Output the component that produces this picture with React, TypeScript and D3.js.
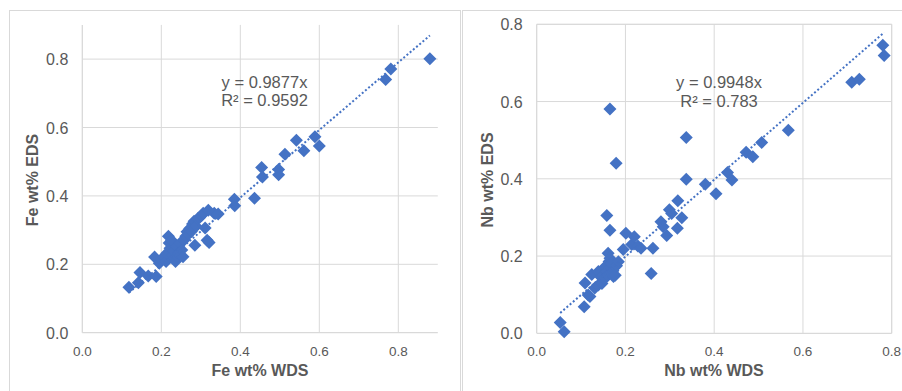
import React from "react";
import * as d3 from "d3";

// ---- Data ----
const feWDS = [0.118,0.142,0.146,0.167,0.187,0.183,0.195,0.200,0.207,0.212,0.214,0.218,0.220,0.222,0.226,0.228,0.232,0.236,0.238,0.241,0.244,0.248,0.252,0.255,0.258,0.262,0.265,0.268,0.272,0.276,0.279,0.283,0.285,0.288,0.292,0.297,0.302,0.306,0.311,0.316,0.319,0.321,0.334,0.344,0.385,0.386,0.436,0.454,0.456,0.497,0.497,0.513,0.542,0.561,0.589,0.600,0.768,0.781,0.880];
const feEDS = [0.133,0.146,0.176,0.166,0.164,0.221,0.203,0.215,0.221,0.208,0.232,0.282,0.262,0.247,0.270,0.225,0.238,0.208,0.252,0.222,0.232,0.262,0.242,0.222,0.271,0.282,0.295,0.287,0.305,0.296,0.318,0.326,0.256,0.311,0.333,0.337,0.343,0.349,0.306,0.270,0.358,0.264,0.349,0.347,0.390,0.371,0.393,0.483,0.455,0.477,0.462,0.522,0.563,0.532,0.573,0.546,0.740,0.771,0.801];

const nbWDS = [0.053,0.062,0.107,0.116,0.120,0.109,0.124,0.131,0.139,0.139,0.145,0.147,0.152,0.154,0.158,0.160,0.161,0.163,0.165,0.166,0.169,0.172,0.173,0.177,0.180,0.184,0.158,0.165,0.165,0.179,0.195,0.201,0.214,0.220,0.228,0.235,0.258,0.262,0.280,0.285,0.293,0.299,0.304,0.318,0.317,0.327,0.337,0.337,0.380,0.404,0.430,0.440,0.472,0.487,0.507,0.567,0.710,0.727,0.780,0.783];
const nbEDS = [0.028,0.004,0.069,0.099,0.095,0.130,0.152,0.117,0.125,0.160,0.145,0.129,0.140,0.172,0.160,0.150,0.207,0.186,0.194,0.170,0.181,0.162,0.147,0.150,0.175,0.185,0.305,0.267,0.581,0.440,0.217,0.259,0.230,0.250,0.226,0.220,0.155,0.220,0.289,0.276,0.253,0.320,0.310,0.343,0.272,0.299,0.507,0.399,0.386,0.361,0.416,0.397,0.469,0.457,0.494,0.526,0.650,0.658,0.746,0.719];

const feTicks = [0, 0.2, 0.4, 0.6, 0.8];
const nbTicks = [0, 0.2, 0.4, 0.6, 0.8];
const feSlope = 0.9877;
const nbSlope = 0.9948;
const feEq = ["y = 0.9877x", "R² = 0.9592"];
const nbEq = ["y = 0.9948x", "R² = 0.783"];

const BLUE = "#4472C4";
const GRID = "#d9d9d9";
const TXT = "#595959";
const FONT = "'Liberation Sans', Arial, sans-serif";

type PanelProps = {
  xs: number[]; ys: number[]; ticks: number[]; max: number;
  x0: number; x1: number; y0: number; y1: number;
  slope: number; eq: string[]; eqX: number; eqY: number;
  xTitle: string; yTitle: string; yTitleX: number; xTitleX: number;
  gridAtMax: boolean;
};

function Panel(p: PanelProps) {
  const x = d3.scaleLinear().domain([0, p.max]).range([p.x0, p.x1]);
  const y = d3.scaleLinear().domain([0, p.max]).range([p.y0, p.y1]);
  const diamond = (cx: number, cy: number) => {
    const r = 6.5;
    return `M${cx},${cy - r}L${cx + r},${cy}L${cx},${cy + r}L${cx - r},${cy}Z`;
  };
  const xmin = d3.min(p.xs) as number;
  const xmax = d3.max(p.xs) as number;
  const line = d3.line<number>().x((d) => x(d)).y((d) => y(d * p.slope));
  const gridVals = p.ticks.filter((t) => t > 0);
  return (
    <g>
      {gridVals.map((t) => (
        <line key={"v" + t} x1={x(t)} x2={x(t)} y1={p.y0} y2={p.y1} stroke={GRID} strokeWidth={1} />
      ))}
      {gridVals.map((t) => (
        <line key={"h" + t} x1={p.x0} x2={p.x1} y1={y(t)} y2={y(t)} stroke={GRID} strokeWidth={1} />
      ))}
      {p.gridAtMax && (
        <>
          <line x1={p.x0} x2={p.x1} y1={p.y1} y2={p.y1} stroke={GRID} />
          <line x1={p.x1} x2={p.x1} y1={p.y0} y2={p.y1} stroke={GRID} />
        </>
      )}
      <line x1={p.x0} x2={p.x0} y1={p.y0} y2={p.y1} stroke={GRID} strokeWidth={1.3} />
      <line x1={p.x0} x2={p.x1} y1={p.y0} y2={p.y0} stroke={GRID} strokeWidth={1.3} />
      {p.ticks.map((t) => (
        <text key={"xt" + t} x={x(t)} y={p.y0 + 23} textAnchor="middle" fontSize={13.5} fill={TXT} fontFamily={FONT}>
          {d3.format(".1f")(t)}
        </text>
      ))}
      {p.ticks.map((t) => (
        <text key={"yt" + t} x={p.x0 - 14} y={y(t) + 6} textAnchor="end" fontSize={16} fill={TXT} fontFamily={FONT}>
          {d3.format(".1f")(t)}
        </text>
      ))}
      {p.xs.map((v, i) => (
        <path key={"m" + i} d={diamond(x(v), y(p.ys[i]))} fill={BLUE} />
      ))}
      <path d={line([xmin, xmax]) as string} stroke={BLUE} strokeWidth={2} strokeDasharray="2 2.2" fill="none" />
      <text x={p.eqX} y={p.eqY} textAnchor="middle" fontSize={16.5} fill={TXT} fontFamily={FONT}>{p.eq[0]}</text>
      <text x={p.eqX} y={p.eqY + 18.5} textAnchor="middle" fontSize={16.5} fill={TXT} fontFamily={FONT}>{p.eq[1]}</text>
      <text x={p.xTitleX} y={376} textAnchor="middle" fontSize={16} fontWeight="bold" fill={TXT} fontFamily={FONT}>{p.xTitle}</text>
      <text transform={`translate(${p.yTitleX},180) rotate(-90)`} textAnchor="middle" fontSize={16} fontWeight="bold" fill={TXT} fontFamily={FONT}>{p.yTitle}</text>
    </g>
  );
}

export default function App() {
  return (
    <svg width={902} height={391} style={{ position: "absolute", left: 0, top: 0, background: "#fff" }}>
      <rect x={0} y={0} width={902} height={391} fill="#fff" />
      <rect x={9.5} y={10.5} width={451} height={400} fill="none" stroke={GRID} />
      <rect x={462.5} y={10.5} width={460} height={400} fill="none" stroke={GRID} />
      <Panel xs={feWDS} ys={feEDS} ticks={feTicks} max={0.9}
        x0={82.3} x1={437.8} y0={332.7} y1={24.9}
        slope={feSlope} eq={feEq} eqX={264.5} eqY={87.5}
        xTitle="Fe wt% WDS" yTitle="Fe wt% EDS" yTitleX={38} xTitleX={260} gridAtMax={false} />
      <Panel xs={nbWDS} ys={nbEDS} ticks={nbTicks} max={0.8}
        x0={536.7} x1={891.7} y0={333.3} y1={24.3}
        slope={nbSlope} eq={nbEq} eqX={719} eqY={88.3}
        xTitle="Nb wt% WDS" yTitle="Nb wt% EDS" yTitleX={492.5} xTitleX={714} gridAtMax={true} />
    </svg>
  );
}
